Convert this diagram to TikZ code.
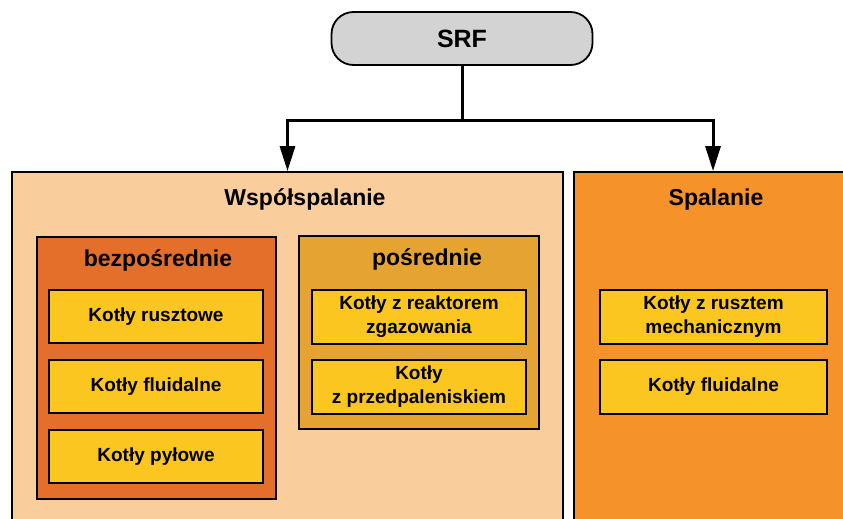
\documentclass[tikz,border=0pt]{standalone}
\usepackage{fontspec}
\setmainfont{Liberation Sans}
\usetikzlibrary{positioning,arrows.meta}
\definecolor{srfgray}{HTML}{D3D3D3}
\definecolor{cofiring}{HTML}{F9CE9C}
\definecolor{firing}{HTML}{F6922A}
\definecolor{direct}{HTML}{E46F2A}
\definecolor{indirect}{HTML}{E5A431}
\definecolor{boiler}{HTML}{FBC61F}

\begin{document}
\begin{tikzpicture}[x=1pt, y=-1pt, line width=1.8pt,
    head/.style = {anchor=base, font=\fontsize{23}{28}\selectfont\bfseries},
    area/.style = {draw, inner sep=0pt},
    boiler/.style = {draw, fill=boiler, inner sep=0pt, minimum height=53pt, align=center,
                     font=\fontsize{19}{24}\selectfont\bfseries},
    link/.style = {line width=3pt, -{Triangle[length=25pt,width=15pt]}}]
          \useasboundingbox (0,0) rectangle (843,519);
          \clip (0,0) rectangle (843,519);
          % Define nodes
          \node[draw, fill=srfgray, rounded corners=22pt, minimum width=261pt, minimum height=53pt,
                font=\fontsize{25}{30}\selectfont\bfseries] (srf) at (462,38.5) {SRF};
          \node[area, fill=cofiring, minimum width=551pt, minimum height=368pt] (wsp) at (287.5,356) {};
          \node[area, fill=firing, minimum width=278pt, minimum height=368pt] (spal) at (713,356) {};
          \node[head] (wsptitle) at (305,205) {Współspalanie};
          \node[head] (spaltitle) at (716,205) {Spalanie};
          \node[area, fill=direct, minimum width=239pt, minimum height=262pt] (bez) at (156.5,368) {};
          \node[area, fill=indirect, minimum width=240pt, minimum height=193pt] (pos) at (419,332.5) {};
          \node[head] (beztitle) at (158,266) {bezpośrednie};
          \node[head] (postitle) at (427,265) {pośrednie};
          % direct co-firing
          \node[boiler, minimum width=214pt] (rusz) at (156,316.5) {Kotły rusztowe};
          \node[boiler, minimum width=214pt] (fluid) [below=15pt of rusz] {Kotły fluidalne};
          \node[boiler, minimum width=214pt] (pyl) [below=15pt of fluid] {Kotły pyłowe};
          % indirect co-firing
          \node[boiler, minimum width=214pt, minimum height=54pt] (reakt) at (419,317) {Kotły z reaktorem\\zgazowania};
          \node[boiler, minimum width=214pt, minimum height=54pt] (przed) [below=14pt of reakt] {Kotły\\z przedpaleniskiem};
          % combustion
          \node[boiler, minimum width=227pt, minimum height=54pt] (mech) at (713.5,317) {Kotły z rusztem\\mechanicznym};
          \node[boiler, minimum width=227pt, minimum height=54pt] (fluid2) [below=14pt of mech] {Kotły fluidalne};
          % Add edges
          \coordinate (split) at (462,120);
          \draw[line width=3pt] (srf) -- (split);
          \draw[link] (split) -| (wsp.north);
          \draw[link] (split) -| (spal.north);
        \end{tikzpicture}
\end{document}
